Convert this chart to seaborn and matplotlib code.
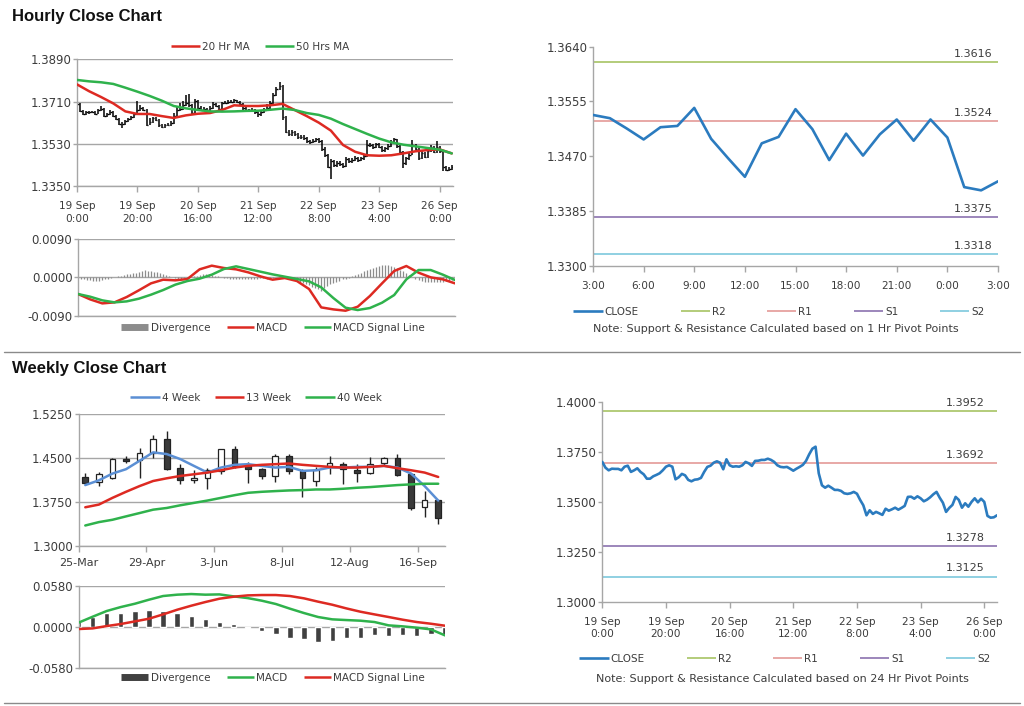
import matplotlib
matplotlib.use("Agg")
import numpy as np
import matplotlib.pyplot as plt
import seaborn as sns
from matplotlib.lines import Line2D
from matplotlib.ticker import FormatStrFormatter

# --- Hourly data (19 Sep 0:00 .. 26 Sep 4:00) ---
hourly_close = [
    1.3699, 1.3670, 1.3657, 1.3665, 1.3664, 1.3664, 1.3657, 1.3675, 1.3680, 1.3649,
    1.3657, 1.3667, 1.3649, 1.3637, 1.3615, 1.3615, 1.3627, 1.3634, 1.3642, 1.3657,
    1.3675, 1.3682, 1.3675, 1.3612, 1.3622, 1.3639, 1.3632, 1.3609, 1.3602, 1.3610,
    1.3612, 1.3619, 1.3649, 1.3674, 1.3680, 1.3695, 1.3702, 1.3695, 1.3662, 1.3712,
    1.3682, 1.3675, 1.3677, 1.3675, 1.3682, 1.3699, 1.3692, 1.3679, 1.3704, 1.3705,
    1.3709, 1.3709, 1.3715, 1.3709, 1.3699, 1.3682, 1.3674, 1.3672, 1.3674, 1.3665,
    1.3655, 1.3665, 1.3674, 1.3684, 1.3704, 1.3737, 1.3765, 1.3775, 1.3642, 1.3582,
    1.3570, 1.3580, 1.3570, 1.3559, 1.3559, 1.3554, 1.3542, 1.3539, 1.3542, 1.3549,
    1.3540, 1.3509, 1.3482, 1.3432, 1.3457, 1.3439, 1.3449, 1.3442, 1.3434, 1.3465,
    1.3455, 1.3462, 1.3470, 1.3460, 1.3469, 1.3479, 1.3524, 1.3525, 1.3515, 1.3527,
    1.3517, 1.3502, 1.3510, 1.3522, 1.3537, 1.3549, 1.3520, 1.3495, 1.3449, 1.3469,
    1.3484, 1.3524, 1.3509, 1.3470, 1.3492, 1.3475, 1.3499, 1.3517, 1.3497, 1.3515,
    1.3499, 1.3429, 1.3420, 1.3422, 1.3432]
hourly_high = [
    1.3712, 1.3703, 1.3674, 1.3669, 1.3670, 1.3671, 1.3668, 1.3680, 1.3690, 1.3684,
    1.3663, 1.3672, 1.3670, 1.3652, 1.3640, 1.3622, 1.3632, 1.3640, 1.3648, 1.3662,
    1.3712, 1.3695, 1.3688, 1.3678, 1.3640, 1.3645, 1.3642, 1.3635, 1.3614, 1.3616,
    1.3618, 1.3625, 1.3660, 1.3690, 1.3705, 1.3712, 1.3738, 1.3742, 1.3700, 1.3720,
    1.3716, 1.3690, 1.3688, 1.3684, 1.3690, 1.3706, 1.3704, 1.3696, 1.3710, 1.3712,
    1.3716, 1.3718, 1.3720, 1.3718, 1.3712, 1.3702, 1.3688, 1.3680, 1.3682, 1.3678,
    1.3670, 1.3672, 1.3682, 1.3700, 1.3712, 1.3745, 1.3772, 1.3792, 1.3780, 1.3648,
    1.3590, 1.3588, 1.3585, 1.3575, 1.3566, 1.3568, 1.3560, 1.3548, 1.3550, 1.3556,
    1.3556, 1.3545, 1.3515, 1.3488, 1.3465, 1.3462, 1.3455, 1.3455, 1.3448, 1.3472,
    1.3470, 1.3468, 1.3476, 1.3475, 1.3475, 1.3485, 1.3548, 1.3535, 1.3530, 1.3534,
    1.3532, 1.3520, 1.3516, 1.3528, 1.3545, 1.3555, 1.3552, 1.3525, 1.3500, 1.3475,
    1.3490, 1.3545, 1.3530, 1.3512, 1.3498, 1.3496, 1.3505, 1.3524, 1.3520, 1.3540,
    1.3520, 1.3502, 1.3435, 1.3430, 1.3440]
hourly_low = [
    1.3690, 1.3664, 1.3652, 1.3652, 1.3658, 1.3659, 1.3652, 1.3655, 1.3670, 1.3642,
    1.3644, 1.3652, 1.3644, 1.3630, 1.3608, 1.3596, 1.3610, 1.3622, 1.3630, 1.3638,
    1.3652, 1.3670, 1.3668, 1.3605, 1.3610, 1.3618, 1.3625, 1.3600, 1.3596, 1.3598,
    1.3604, 1.3606, 1.3615, 1.3645, 1.3668, 1.3675, 1.3690, 1.3688, 1.3655, 1.3660,
    1.3675, 1.3668, 1.3670, 1.3668, 1.3670, 1.3678, 1.3685, 1.3672, 1.3675, 1.3698,
    1.3700, 1.3702, 1.3704, 1.3702, 1.3692, 1.3676, 1.3666, 1.3664, 1.3666, 1.3656,
    1.3645, 1.3650, 1.3660, 1.3670, 1.3680, 1.3700, 1.3732, 1.3758, 1.3630, 1.3575,
    1.3562, 1.3565, 1.3562, 1.3552, 1.3550, 1.3546, 1.3535, 1.3530, 1.3532, 1.3536,
    1.3532, 1.3500, 1.3472, 1.3425, 1.3380, 1.3430, 1.3430, 1.3434, 1.3425, 1.3430,
    1.3448, 1.3450, 1.3455, 1.3452, 1.3455, 1.3462, 1.3475, 1.3515, 1.3508, 1.3510,
    1.3510, 1.3495, 1.3496, 1.3505, 1.3518, 1.3532, 1.3512, 1.3488, 1.3425, 1.3440,
    1.3462, 1.3480, 1.3502, 1.3462, 1.3465, 1.3468, 1.3470, 1.3495, 1.3490, 1.3492,
    1.3492, 1.3415, 1.3412, 1.3414, 1.3418]

# moving averages / MACD read every 4 hours
ma_hours = [0, 4, 8, 12, 16, 20, 24, 28, 32, 36, 40, 44, 48, 52, 56, 60,
            64, 68, 72, 76, 80, 84, 88, 92, 96, 100, 104, 108, 112, 116, 120, 124]
ma20_hr = [1.3783, 1.3754, 1.3729, 1.3702, 1.3668, 1.3657, 1.3657, 1.3648, 1.3640, 1.3651,
           1.3658, 1.3661, 1.3674, 1.3694, 1.3691, 1.3691, 1.3694, 1.3700, 1.3674, 1.3648,
           1.3620, 1.3586, 1.3525, 1.3496, 1.3481, 1.3479, 1.3481, 1.3489, 1.3498, 1.3503,
           1.3506, 1.3489]
ma50_hr = [1.3802, 1.3796, 1.3792, 1.3785, 1.3769, 1.3752, 1.3734, 1.3714, 1.3691, 1.3681,
           1.3674, 1.3668, 1.3667, 1.3668, 1.3670, 1.3671, 1.3675, 1.3680, 1.3674, 1.3661,
           1.3653, 1.3637, 1.3614, 1.3593, 1.3572, 1.3552, 1.3536, 1.3526, 1.3519, 1.3512,
           1.3505, 1.3489]
macd_hr = [-0.00391, -0.00517, -0.00611, -0.00587, -0.00462, -0.00305, -0.00141, -0.00055,
           -0.00070, -0.00039, 0.00188, 0.00274, 0.00219, 0.00188, 0.00117, 0.00023,
           -0.00055, -0.00016, -0.00086, -0.00274, -0.00705, -0.00752, -0.00783, -0.00689,
           -0.00438, -0.00141, 0.00149, 0.00266, 0.00110, 0.0, -0.00047, -0.00141]
signal_hr = [-0.00391, -0.00454, -0.00540, -0.00587, -0.00564, -0.00501, -0.00407, -0.00298,
             -0.00172, -0.00086, -0.00031, 0.00063, 0.00196, 0.00258, 0.00196, 0.00133,
             0.00070, 0.00016, -0.00039, -0.00094, -0.00235, -0.00486, -0.00712, -0.00767,
             -0.00720, -0.00595, -0.00415, -0.00047, 0.00172, 0.00172, 0.00063, -0.00063]
divergence_hr = [
    -0.0001, -0.0003, -0.0005, -0.0006, -0.0007, -0.0008, -0.0008, -0.0008, -0.0007, -0.0005,
    -0.0003, -0.0001, 0.0001, 0.0002, 0.0004, 0.0005, 0.0007, 0.0008, 0.0010, 0.0011,
    0.0012, 0.0014, 0.0017, 0.0016, 0.0014, 0.0012, 0.0012, 0.0010, 0.0008, 0.0005,
    0.0002, 0.0000, -0.0002, -0.0003, -0.0003, -0.0002, -0.0001, 0.0001, 0.0002, 0.0004,
    0.0006, 0.0007, 0.0008, 0.0007, 0.0006, 0.0004, 0.0002, 0.0001, -0.0001, -0.0002,
    -0.0003, -0.0003, -0.0004, -0.0004, -0.0003, -0.0003, -0.0004, -0.0004, -0.0003, -0.0003,
    -0.0002, -0.0002, -0.0003, -0.0002, -0.0001, 0.0000, 0.0001, 0.0001, 0.0000, -0.0002,
    -0.0004, -0.0006, -0.0008, -0.0011, -0.0014, -0.0016, -0.0019, -0.0022, -0.0025, -0.0028,
    -0.0031, -0.0026, -0.0020, -0.0016, -0.0013, -0.0010, -0.0008, -0.0005, -0.0003, -0.0001,
    0.0002, 0.0005, 0.0008, 0.0011, 0.0014, 0.0017, 0.0020, 0.0023, 0.0025, 0.0027,
    0.0028, 0.0029, 0.0028, 0.0027, 0.0025, 0.0022, 0.0018, 0.0014, 0.0010, 0.0005,
    0.0001, -0.0003, -0.0006, -0.0008, -0.0010, -0.0011, -0.0012, -0.0012, -0.0012, -0.0011,
    -0.0010, -0.0009, -0.0008, -0.0007, -0.0006]
hourly_ticks = [0, 20, 40, 60, 80, 100, 120]
hourly_labels = ["19 Sep\n0:00", "19 Sep\n20:00", "20 Sep\n16:00", "21 Sep\n12:00",
                 "22 Sep\n8:00", "23 Sep\n4:00", "26 Sep\n0:00"]

# --- last 24 hours with 1 hr pivots ---
close_24h = [1.3534, 1.3529, 1.3513, 1.3496, 1.3515, 1.3517, 1.3545, 1.3497, 1.3467, 1.3438,
             1.3490, 1.3500, 1.3543, 1.3512, 1.3464, 1.3505, 1.3471, 1.3504, 1.3527, 1.3494,
             1.3527, 1.3499, 1.3422, 1.3417, 1.3431]
labels_24h = ["3:00", "6:00", "9:00", "12:00", "15:00", "18:00", "21:00", "0:00", "3:00"]
pivots_1h = {"R2": 1.3616, "R1": 1.3524, "S1": 1.3375, "S2": 1.3318}
pivots_24h = {"R2": 1.3952, "R1": 1.3692, "S1": 1.3278, "S2": 1.3125}

# --- Weekly data (25-Mar .. 23-Sep) ---
wk_open = [1.4177, 1.4090, 1.4154, 1.4483, 1.4465, 1.4581, 1.4829, 1.4327, 1.4119, 1.4154,
           1.4281, 1.4656, 1.4367, 1.4310, 1.4194, 1.4540, 1.4281, 1.4108, 1.4367, 1.4396,
           1.4292, 1.4252, 1.4408, 1.4500, 1.4223, 1.3658, 1.3790]
wk_close = [1.4079, 1.4235, 1.4483, 1.4442, 1.4581, 1.4829, 1.4310, 1.4119, 1.4154, 1.4292,
            1.4656, 1.4367, 1.4310, 1.4194, 1.4540, 1.4281, 1.4154, 1.4292, 1.4408, 1.4310,
            1.4252, 1.4396, 1.4500, 1.4212, 1.3646, 1.3790, 1.3473]
wk_high = [1.4252, 1.4269, 1.4500, 1.4540, 1.4673, 1.4904, 1.4962, 1.4396, 1.4292, 1.4338,
           1.4656, 1.4713, 1.4425, 1.4338, 1.4569, 1.4569, 1.4310, 1.4350, 1.4540, 1.4425,
           1.4396, 1.4512, 1.4512, 1.4569, 1.4252, 1.3935, 1.3790]
wk_low = [1.4050, 1.4021, 1.4136, 1.4408, 1.4154, 1.4500, 1.4292, 1.4050, 1.4079, 1.3963,
          1.4235, 1.4338, 1.4079, 1.4136, 1.4096, 1.4235, 1.3831, 1.4021, 1.4235, 1.4061,
          1.4096, 1.4235, 1.4367, 1.4194, 1.3617, 1.3484, 1.3369]
wk_ma4 = [1.4038, 1.4119, 1.4235, 1.4310, 1.4454, 1.4598, 1.4569, 1.4483, 1.4367, 1.4252,
          1.4338, 1.4385, 1.4396, 1.4367, 1.4338, 1.4350, 1.4281, 1.4292, 1.4338, 1.4338,
          1.4350, 1.4350, 1.4367, 1.4338, 1.4235, 1.4021, 1.3773]
wk_ma13 = [1.3658, 1.3704, 1.3819, 1.3923, 1.4021, 1.4108, 1.4154, 1.4194, 1.4223, 1.4252,
           1.4292, 1.4338, 1.4367, 1.4385, 1.4396, 1.4408, 1.4385, 1.4367, 1.4350, 1.4338,
           1.4338, 1.4350, 1.4367, 1.4327, 1.4292, 1.4252, 1.4177]
wk_ma40 = [1.3346, 1.3404, 1.3444, 1.3502, 1.3559, 1.3617, 1.3646, 1.3692, 1.3733, 1.3773,
           1.3819, 1.3865, 1.3906, 1.3923, 1.3935, 1.3946, 1.3952, 1.3963, 1.3963, 1.3975,
           1.3992, 1.4004, 1.4021, 1.4038, 1.4050, 1.4061, 1.4061]
wk_macd = [0.0057, 0.0141, 0.0222, 0.0278, 0.0325, 0.0382, 0.0434, 0.0453, 0.0462, 0.0453,
           0.0457, 0.0429, 0.0405, 0.0368, 0.0321, 0.0255, 0.0193, 0.0137, 0.0104, 0.0094,
           0.0085, 0.0066, 0.0019, 0.0005, -0.0014, -0.0038, -0.0123]
wk_signal = [-0.0033, -0.0024, 0.0009, 0.0038, 0.0075, 0.0113, 0.0174, 0.0240, 0.0297, 0.0349,
             0.0396, 0.0424, 0.0443, 0.0448, 0.0448, 0.0434, 0.0401, 0.0354, 0.0311, 0.0259,
             0.0212, 0.0174, 0.0137, 0.0099, 0.0066, 0.0042, 0.0014]
wk_divergence = [0.0090, 0.0141, 0.0189, 0.0198, 0.0217, 0.0236, 0.0226, 0.0198, 0.0151, 0.0104,
                 0.0071, 0.0033, -0.0014, -0.0061, -0.0108, -0.0156, -0.0179, -0.0212, -0.0198,
                 -0.0165, -0.0156, -0.0123, -0.0132, -0.0118, -0.0127, -0.0104, -0.0132]
wk_tick_pos = [0, 5, 10, 15, 20, 25]
wk_labels = ["25-Mar", "29-Apr", "3-Jun", "8-Jul", "12-Aug", "16-Sep"]

# colours
RED = "#dd2a22"
GREEN = "#2fb24c"
BLUE = "#2b7bbf"
WK_BLUE = "#5b8fd4"
AXIS = "#a6a6a6"
TXT = "#3c3c3c"
PIVOT_COLORS = {"R2": "#b3cc7a", "R1": "#e8a8a6", "S1": "#9c86bb", "S2": "#8fd0e2"}
FS_Y = 8.5   # y tick labels
FS_X = 7.6   # x tick labels
FS_LEG = 7.5
FS_NOTE = 8

sns.set_theme(style="white")
plt.rcParams["font.family"] = ["DejaVu Sans"]

W, H = 1024, 706
fig = plt.figure(figsize=(W / 100, H / 100), dpi=100)
fig.patch.set_facecolor("white")


def place(x0, y0, x1, y1):
    return fig.add_axes([x0 / W, 1 - y1 / H, (x1 - x0) / W, (y1 - y0) / H])


def style(ax, grid=True):
    sns.despine(ax=ax)
    for s in ("left", "bottom"):
        ax.spines[s].set_color(AXIS)
        ax.spines[s].set_linewidth(1.0)
    ax.tick_params(axis="y", left=True, length=3, width=1, color=AXIS,
                   labelsize=FS_Y, labelcolor=TXT, pad=1, direction="out")
    ax.tick_params(axis="x", bottom=True, length=4, width=1, color=AXIS,
                   labelsize=FS_X, labelcolor=TXT, pad=7, direction="out")
    ax.grid(False)
    if grid:
        ax.yaxis.grid(True, color=AXIS, lw=1)
    ax.set_axisbelow(True)
    ax.yaxis.set_major_formatter(FormatStrFormatter("%.4f"))


def fig_legend(ax, handles, labels, cx, cy, **kw):
    leg = ax.legend(handles, labels, loc="center", bbox_to_anchor=(cx / W, 1 - cy / H),
                    bbox_transform=fig.transFigure, ncol=len(handles), frameon=False,
                    fontsize=FS_LEG, handletextpad=0.2, borderaxespad=0, **kw)
    for t in leg.get_texts():
        t.set_color(TXT)
    return leg


def line(color, lw=1.8):
    return Line2D([], [], color=color, lw=lw, solid_capstyle="butt")


# section titles & separators
for yy, title in ((16, "Hourly Close Chart"), (369, "Weekly Close Chart")):
    fig.text(12 / W, 1 - yy / H, title, fontsize=12, fontweight="bold",
             family="Liberation Sans", va="center", ha="left", color="#111111")
for yy in (352, 703):
    fig.add_artist(Line2D([4 / W, 1020 / W], [1 - yy / H, 1 - yy / H], color="#8a8a8a", lw=1))

hours = np.arange(len(hourly_close))

# ---- hourly price with bars and MAs ----
ax1 = place(77, 59.3, 453.3, 186)
style(ax1)
ax1.vlines(hours, hourly_low, hourly_high, color="black", lw=1.1, zorder=2)
ax1.hlines(hourly_close, hours, hours + 0.6, color="black", lw=1.0, zorder=2)
sns.lineplot(x=ma_hours, y=ma20_hr, ax=ax1, color=RED, lw=1.8, estimator=None, zorder=3)
sns.lineplot(x=ma_hours, y=ma50_hr, ax=ax1, color=GREEN, lw=1.8, estimator=None, zorder=3)
ax1.set_ylim(1.3350, 1.3890)
ax1.set_yticks([1.3350, 1.3530, 1.3710, 1.3890])
ax1.set_xlim(0, 124.5)
ax1.set_xticks(hourly_ticks)
ax1.set_xticklabels(hourly_labels, linespacing=1.3)
ax1.set_xlabel("")
ax1.set_ylabel("")
fig_legend(ax1, [line(RED), line(GREEN)], ["20 Hr MA", "50 Hrs MA"], 260, 46.7,
           handlelength=2.8, columnspacing=1.4)

# ---- hourly MACD ----
ax2 = place(78, 239, 455, 315.7)
style(ax2)
ax2.vlines(hours, 0, divergence_hr, color="#8c8c8c", lw=0.9, zorder=2)
sns.lineplot(x=ma_hours, y=macd_hr, ax=ax2, color=RED, lw=1.8, estimator=None, zorder=3)
sns.lineplot(x=ma_hours, y=signal_hr, ax=ax2, color=GREEN, lw=1.8, estimator=None, zorder=3)
ax2.set_ylim(-0.009, 0.009)
ax2.set_yticks([-0.009, 0.0, 0.009])
ax2.set_xlim(0, 124)
ax2.set_xticks([])
ax2.set_xlabel("")
ax2.set_ylabel("")
fig_legend(ax2, [line("#8c8c8c", 5), line(RED), line(GREEN)],
           ["Divergence", "MACD", "MACD Signal Line"], 273, 328,
           handlelength=2.6, columnspacing=1.6)


# ---- pivot charts ----
def pivot_chart(ax, x, y, pivots, ylim, yticks, xlim, xticks, xlabels, lab_dx,
                note, lcx, lcy, ncx, ncy):
    style(ax, grid=False)
    for name, lvl in pivots.items():
        ax.axhline(lvl, color=PIVOT_COLORS[name], lw=1.4, zorder=2)
        ax.annotate(f"{lvl:.4f}", xy=(1, lvl), xycoords=("axes fraction", "data"),
                    xytext=(lab_dx, 2.5), textcoords="offset points", ha="right",
                    va="bottom", fontsize=8, color=TXT)
    sns.lineplot(x=x, y=y, ax=ax, color=BLUE, lw=1.9, estimator=None, zorder=3)
    ax.set_ylim(*ylim)
    ax.set_yticks(yticks)
    ax.set_xlim(*xlim)
    ax.set_xticks(xticks)
    ax.set_xticklabels(xlabels, linespacing=1.3)
    ax.set_xlabel("")
    ax.set_ylabel("")
    handles = [line(BLUE, 1.9)] + [line(PIVOT_COLORS[k], 1.4) for k in pivots]
    fig_legend(ax, handles, ["CLOSE"] + list(pivots), lcx, lcy,
               handlelength=2.8, columnspacing=4.0)
    fig.text(ncx / W, 1 - ncy / H, note, fontsize=FS_NOTE, color=TXT, ha="center", va="center")


ax3 = place(593, 46.7, 998, 265.7)
pivot_chart(ax3, np.arange(len(close_24h)), close_24h, pivots_1h, (1.3300, 1.3640),
            [1.3300, 1.3385, 1.3470, 1.3555, 1.3640], (0, 24), np.arange(0, 25, 3),
            labels_24h, -4, "Note: Support & Resistance Calculated based on 1 Hr Pivot Points",
            779, 312, 776, 329)

ax6 = place(602.3, 401.7, 997, 601.7)
pivot_chart(ax6, hours, hourly_close, pivots_24h, (1.3000, 1.4000),
            [1.3000, 1.3250, 1.3500, 1.3750, 1.4000], (0, 124), hourly_ticks,
            hourly_labels, -9, "Note: Support & Resistance Calculated based on 24 Hr Pivot Points",
            785, 659, 782, 679)

# ---- weekly candles ----
weeks = np.arange(len(wk_close))
ax4 = place(78.5, 414.3, 445, 545.7)
style(ax4)
ax4.vlines(weeks, wk_low, wk_high, color="#222222", lw=1.0, zorder=2)
body_bottom = np.minimum(wk_open, wk_close)
body_height = np.abs(np.array(wk_close) - np.array(wk_open))
fills = ["#3a3a3a" if c < o else "white" for o, c in zip(wk_open, wk_close)]
ax4.bar(weeks, body_height, bottom=body_bottom, width=0.42, color=fills,
        edgecolor="#222222", lw=0.9, zorder=2.5)
sns.lineplot(x=weeks, y=wk_ma4, ax=ax4, color=WK_BLUE, lw=1.8, estimator=None, zorder=3)
sns.lineplot(x=weeks, y=wk_ma13, ax=ax4, color=RED, lw=1.8, estimator=None, zorder=3)
sns.lineplot(x=weeks, y=wk_ma40, ax=ax4, color=GREEN, lw=1.8, estimator=None, zorder=3)
ax4.set_ylim(1.3000, 1.5250)
ax4.set_yticks([1.3000, 1.3750, 1.4500, 1.5250])
ax4.set_xlim(-0.5, len(wk_close) - 0.5)
ax4.set_xticks([p - 0.5 for p in wk_tick_pos])
ax4.set_xticklabels(wk_labels)
ax4.tick_params(axis="x", labelsize=8, pad=5)
ax4.set_xlabel("")
ax4.set_ylabel("")
fig_legend(ax4, [line(WK_BLUE), line(RED), line(GREEN)], ["4 Week", "13 Week", "40 Week"],
           256, 397.7, handlelength=2.8, columnspacing=1.4)

# ---- weekly MACD ----
ax5 = place(78.5, 585.7, 445, 667.7)
style(ax5)
ax5.bar(weeks, wk_divergence, width=0.38, color="#404040", zorder=2)
sns.lineplot(x=weeks, y=wk_macd, ax=ax5, color=GREEN, lw=1.8, estimator=None, zorder=3)
sns.lineplot(x=weeks, y=wk_signal, ax=ax5, color=RED, lw=1.8, estimator=None, zorder=3)
ax5.set_ylim(-0.058, 0.058)
ax5.set_yticks([-0.058, 0.0, 0.058])
ax5.set_xlim(0, len(wk_close) - 1)
ax5.set_xticks([])
ax5.set_xlabel("")
ax5.set_ylabel("")
fig_legend(ax5, [line("#404040", 5), line(GREEN), line(RED)],
           ["Divergence", "MACD", "MACD Signal Line"], 273, 678,
           handlelength=2.6, columnspacing=1.6)

fig.savefig("out.png", dpi=100, facecolor="white")
